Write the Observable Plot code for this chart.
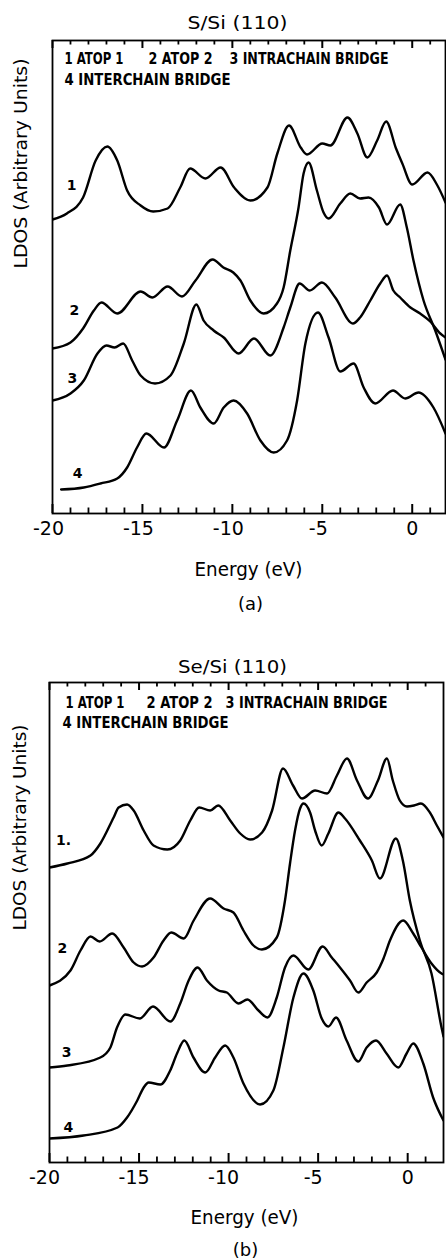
<!DOCTYPE html>
<html><head><meta charset="utf-8">
<script src="https://cdn.jsdelivr.net/npm/d3@7"></script>
<script src="https://cdn.jsdelivr.net/npm/@observablehq/plot@0.6"></script>
<style>
body{margin:0;background:#fff;}
#chart{width:446px;}
#chart svg{display:block;}
</style></head><body><div id="chart"></div>
<script>
// ---- tick positions (Energy, eV) ----
const energyMajor = [-20, -15, -10, -5, 0];
const energyMinor = [-19, -18, -17, -16, -14, -13, -12, -11, -9, -8, -7, -6, -4, -3, -2, -1, 1];

// ---- Panel (a): S/Si(110), LDOS [energy eV, arbitrary units] ----
const sAtop1 = [[-20,29.4],[-19.2,30.0],[-18.3,31.6],[-17.6,35.3],[-16.95,36.7],[-16.4,35.3],[-15.85,32.3],[-15.1,30.8],[-14.4,30.2],[-13.6,30.5],[-12.9,32.6],[-12.35,34.5],[-11.5,33.5],[-10.65,34.6],[-9.9,32.6],[-9.0,31.3],[-8.05,32.6],[-7.5,36.0],[-6.85,38.8],[-6.2,36.6],[-5.85,35.9],[-5.0,37.0],[-4.55,36.8],[-3.6,39.6],[-3.05,38.0],[-2.5,35.6],[-1.95,37.3],[-1.45,39.2],[-0.9,36.5],[-0.55,35.0],[0.0,32.9],[0.85,34.1],[1.4,32.8],[1.85,31.1]];
const sAtop2 = [[-20,16.5],[-19.0,17.1],[-18.3,18.5],[-17.7,20.3],[-17.28,21.1],[-16.4,20.0],[-15.1,22.2],[-14.45,21.6],[-13.6,22.7],[-12.8,21.7],[-12.05,23.3],[-11.1,25.4],[-10.5,24.6],[-9.95,24.1],[-9.55,23.3],[-9.0,21.3],[-8.26,20.0],[-7.52,21.0],[-7.15,22.6],[-6.78,26.3],[-6.32,30.6],[-6.04,34.0],[-5.76,35.1],[-5.3,32.3],[-4.93,30.1],[-4.65,29.5],[-4.0,31.0],[-3.44,32.0],[-2.9,31.5],[-2.43,31.6],[-1.85,30.6],[-1.4,28.9],[-0.67,30.9],[-0.3,28.6],[0.07,25.3],[0.63,21.3],[1.28,18.3],[1.85,15.4]];
const sIntra = [[-20,11.3],[-19.0,12.0],[-18.26,13.3],[-17.5,16.0],[-17.0,16.8],[-16.55,16.6],[-16.07,17.0],[-15.57,15.3],[-15.1,13.8],[-14.3,13.0],[-13.44,13.8],[-12.7,17.0],[-12.0,20.9],[-11.6,19.3],[-11.04,18.3],[-10.48,17.6],[-9.65,16.0],[-8.8,17.5],[-7.89,15.8],[-7.15,18.6],[-6.78,20.6],[-6.26,23.0],[-5.7,22.3],[-5.02,23.1],[-4.28,21.6],[-3.3,19.0],[-2.9,19.6],[-2.33,21.3],[-1.78,23.0],[-1.4,23.8],[-1.05,22.3],[-0.67,21.6],[-0.1,20.6],[0.44,20.0],[1.0,19.2],[1.56,18.0],[1.85,17.6]];
const sInter = [[-19.52,2.4],[-18.26,2.6],[-17.33,3.0],[-16.4,3.5],[-15.85,4.6],[-15.3,6.6],[-14.78,8.0],[-13.8,6.6],[-13.07,9.3],[-12.3,12.3],[-11.78,10.6],[-11.04,9.0],[-10.48,10.6],[-9.93,11.3],[-9.18,10.0],[-8.44,7.3],[-7.7,6.1],[-6.96,7.3],[-6.4,11.3],[-5.94,17.0],[-5.24,20.1],[-4.65,17.6],[-4.0,14.2],[-3.26,15.0],[-2.7,12.6],[-2.06,11.0],[-1.07,12.3],[-0.39,11.5],[0.35,12.1],[1.18,10.6],[1.85,8.0]];
const sLabels = [{e:-18.94,v:32.8,t:"1"},{e:-18.78,v:20.3,t:"2"},{e:-18.89,v:13.5,t:"3"},{e:-18.6,v:4.0,t:"4"}];

// ---- Panel (b): Se/Si(110) ----
const seAtop1 = [[-20,29.5],[-19.0,29.9],[-17.71,30.7],[-17.16,31.9],[-16.42,34.5],[-16.14,35.5],[-15.67,35.8],[-15.3,35.2],[-14.74,33.2],[-14.19,31.7],[-13.42,31.3],[-12.7,32.2],[-12.14,34.2],[-11.64,35.5],[-11.03,35.2],[-10.58,35.7],[-9.91,34.2],[-9.35,32.9],[-8.8,32.3],[-8.13,33.0],[-7.57,35.2],[-6.96,39.4],[-6.4,37.7],[-5.9,36.4],[-5.17,37.2],[-4.5,36.9],[-3.95,38.7],[-3.39,40.4],[-2.83,38.2],[-2.22,36.4],[-1.66,38.2],[-1.16,40.4],[-0.83,38.2],[-0.44,36.2],[-0.04,35.6],[0.35,35.7],[0.74,35.9],[1.24,35.0],[1.63,33.7],[2.0,32.5]];
const seAtop2 = [[-20,17.7],[-18.83,19.2],[-18.27,21.2],[-17.71,22.6],[-17.2,22.1],[-16.5,22.9],[-15.86,21.5],[-15.3,20.0],[-14.83,19.6],[-14.19,20.5],[-13.63,22.2],[-13.2,23.0],[-12.5,22.4],[-11.95,24.2],[-11.03,26.4],[-10.28,25.4],[-9.73,25.0],[-9.17,23.2],[-8.61,21.7],[-8.14,21.3],[-7.31,22.5],[-6.85,26.2],[-6.57,29.9],[-6.29,33.2],[-6.01,35.4],[-5.82,35.9],[-5.45,35.0],[-5.17,33.2],[-4.8,31.7],[-4.43,32.9],[-3.87,35.0],[-3.5,34.4],[-2.67,32.2],[-2.0,30.2],[-1.55,28.4],[-0.66,32.4],[-0.27,30.2],[0.12,26.2],[0.68,22.2],[1.33,18.9],[1.89,13.5],[2.0,12.6]];
const seIntra = [[-20,9.5],[-19.0,9.7],[-17.16,10.5],[-16.6,11.5],[-16.23,13.5],[-15.76,14.8],[-14.96,14.4],[-14.22,15.6],[-13.25,14.1],[-12.7,15.9],[-12.23,18.2],[-11.73,19.5],[-11.21,18.2],[-10.56,17.2],[-10.1,17.0],[-9.45,15.9],[-8.95,16.3],[-8.33,15.2],[-7.83,14.5],[-7.31,16.5],[-6.85,19.5],[-6.38,20.7],[-5.55,19.3],[-4.75,21.6],[-4.24,20.5],[-3.78,19.5],[-3.22,18.2],[-2.76,17.0],[-2.29,18.0],[-1.73,19.0],[-1.35,20.4],[-0.99,22.2],[-0.25,24.2],[0.31,22.9],[0.77,21.5],[1.33,19.9],[1.89,18.9],[2.0,18.8]];
const seInter = [[-20,2.4],[-18.1,2.7],[-16.2,3.5],[-15.67,4.5],[-15.1,6.2],[-14.74,7.5],[-14.46,8.0],[-13.81,7.8],[-13.26,9.2],[-12.88,10.9],[-12.47,12.2],[-11.96,10.5],[-11.3,9.0],[-10.75,10.5],[-10.19,11.7],[-9.73,10.5],[-9.17,7.9],[-8.24,5.8],[-7.5,7.2],[-6.94,11.5],[-6.38,16.5],[-5.82,18.9],[-5.27,17.2],[-4.8,14.4],[-4.43,13.6],[-4.0,14.5],[-3.41,12.2],[-2.76,10.1],[-2.29,11.5],[-1.77,12.2],[-1.18,10.9],[-0.53,9.5],[-0.06,10.9],[0.31,11.9],[0.87,9.9],[1.42,6.5],[2.0,4.2]];
const seLabels = [{e:-19.22,v:32.2,t:"1."},{e:-19.28,v:21.4,t:"2"},{e:-19.05,v:11.0,t:"3"},{e:-18.94,v:3.5,t:"4"}];

const legendLine1 = ["1 ATOP 1", "2 ATOP 2", "3 INTRACHAIN BRIDGE"];
const legendLine2 = ["4 INTERCHAIN BRIDGE"];
const yLabel = "LDOS (Arbitrary Units)";
const xLabel = "Energy (eV)";

const W = 446;
const FONT = "DejaVu Sans";

function makePanel(c) {
  const fh = c.height - c.marginTop - c.marginBottom;
  const line = d => Plot.line(d, {x: p => p[0], y: p => p[1], curve: "monotone-x", stroke: "#000", strokeWidth: 2.4, strokeLinejoin: "round", clip: true});
  const marks = [
    Plot.ruleX(energyMajor, {x: d => d, insetTop: fh - 9, stroke: "#000", strokeWidth: 2}),
    Plot.ruleX(energyMinor, {x: d => d, insetTop: fh - 5.5, stroke: "#000", strokeWidth: 1.8}),
    Plot.ruleX(energyMajor, {x: d => d, insetBottom: fh - 8, stroke: "#000", strokeWidth: 2}),
    Plot.ruleX(energyMinor, {x: d => d, insetBottom: fh - 4.5, stroke: "#000", strokeWidth: 1.8}),
    Plot.frame({stroke: "#000", strokeWidth: 1.8}),
    ...c.curves.map(line),
    Plot.text(c.labels, {x: "e", y: "v", text: "t", fontSize: 14, fontWeight: "bold", fill: "#000"}),
    Plot.text(energyMajor.filter(d => d < 0), {x: d => d, text: d => String(d), frameAnchor: "bottom", lineAnchor: "top", dy: 8, dx: c.negDx, fontSize: 19, fill: "#000"}),
    Plot.text(energyMajor.filter(d => d >= 0), {x: d => d, text: d => String(d), frameAnchor: "bottom", lineAnchor: "top", dy: 8, fontSize: 19, fill: "#000"}),
    Plot.text([c.title], {text: d => d, frameAnchor: "top", lineAnchor: "bottom", dx: c.titleDx, dy: c.titleDy, fontSize: 18, fill: "#000"}),
    Plot.text([yLabel], {text: d => d, frameAnchor: "left", rotate: -90, dx: c.yLabDx, dy: c.yLabDy, fontSize: 18, fill: "#000"}),
    Plot.text([xLabel], {text: d => d, frameAnchor: "bottom", lineAnchor: "bottom", dx: c.xLabDx, dy: c.xLabDy, fontSize: 19, fill: "#000"}),
    Plot.text([c.tag], {text: d => d, frameAnchor: "bottom", lineAnchor: "bottom", dx: c.tagDx, dy: c.tagDy, fontSize: 18, fill: "#000"}),
    ...legendLine1.map((s, i) => Plot.text([s], {text: d => d, frameAnchor: "top-left", textAnchor: "start", lineAnchor: "bottom", dx: c.leg1[i][0], dy: c.legDy[0], fontSize: 16, fontWeight: "bold", fill: "#000"})),
    ...legendLine2.map((s, i) => Plot.text([s], {text: d => d, frameAnchor: "top-left", textAnchor: "start", lineAnchor: "bottom", dx: c.leg2[i][0], dy: c.legDy[1], fontSize: 16, fontWeight: "bold", fill: "#000"}))
  ];
  const svg = Plot.plot({
    width: W, height: c.height,
    marginTop: c.marginTop, marginBottom: c.marginBottom, marginLeft: c.marginLeft, marginRight: c.marginRight,
    x: {domain: c.xDomain, axis: null},
    y: {domain: c.yDomain, axis: null},
    style: {fontFamily: FONT, background: "#fff", color: "#000"},
    marks
  });
  const fit = {};
  legendLine1.forEach((s, i) => fit[s] = c.leg1[i][1]);
  legendLine2.forEach((s, i) => fit[s] = c.leg2[i][1]);
  fit[yLabel] = c.yLabW; fit[xLabel] = c.xLabW; fit[c.title] = c.titleW;
  d3.select(svg).selectAll("text").each(function() {
    const w = fit[this.textContent];
    if (w) { this.setAttribute("textLength", w); this.setAttribute("lengthAdjust", "spacingAndGlyphs"); }
  });
  return svg;
}

const root = document.getElementById("chart");
root.appendChild(makePanel({
  title: "S/Si (110)", tag: "(a)",
  curves: [sAtop1, sAtop2, sIntra, sInter], labels: sLabels,
  height: 640, marginTop: 40, marginBottom: 127, marginLeft: 52, marginRight: 1,
  xDomain: [-20, 1.85], yDomain: [0, 47.3],
  negDx: -4, titleDx: -11.5, titleDy: -12, titleW: 100,
  yLabDx: -31.5, yLabDy: -8.5, yLabW: 210,
  xLabDx: -0.5, xLabDy: 62, xLabW: 108,
  tagDx: 1.5, tagDy: 96,
  leg1: [[12, 59], [96, 64], [177, 159]], leg2: [[12, 166]], legDy: [23, 44]
}));
root.appendChild(makePanel({
  title: "Se/Si (110)", tag: "(b)",
  curves: [seAtop1, seAtop2, seIntra, seInter], labels: seLabels,
  height: 620, marginTop: 42, marginBottom: 98, marginLeft: 49, marginRight: 3,
  xDomain: [-20, 2], yDomain: [0, 48],
  negDx: -5, titleDx: -14, titleDy: -10, titleW: 109,
  yLabDx: -29, yLabDy: 8, yLabW: 206,
  xLabDx: -2, xLabDy: 61, xLabW: 108,
  tagDx: -1, tagDy: 93,
  leg1: [[16, 59], [97, 66], [176, 162]], leg2: [[13, 166]], legDy: [25, 45]
}));
</script></body></html>
